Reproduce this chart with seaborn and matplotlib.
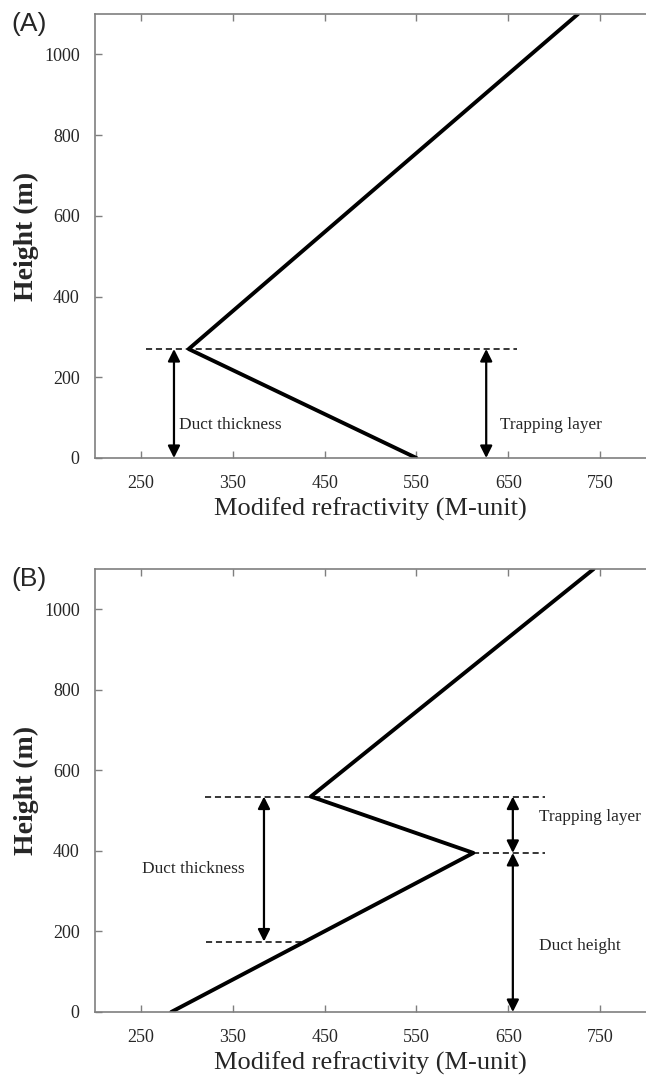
import matplotlib
matplotlib.use("Agg")
import matplotlib.pyplot as plt
import seaborn as sns
import pandas as pd

# ---- data ----
x_ticks = [250, 350, 450, 550, 650, 750]
y_ticks = [0, 200, 400, 600, 800, 1000]

# Panel A profile (M-unit, height m)
a_m = [550, 302, 726]
a_h = [0, 270, 1100]
# Panel A reference lines / arrows
a_dash_h = [270]
a_dash_x0 = [255]
a_dash_x1 = [660]
a_arrow_x = [286, 626]
a_arrow_y0 = [0, 0]
a_arrow_y1 = [270, 270]
a_text = ["Duct thickness", "Trapping layer"]
a_text_x = [291, 641]
a_text_y = [82, 82]

# Panel B profile
b_m = [283, 612, 435, 743]
b_h = [0, 395, 535, 1100]
b_dash_h = [535, 395, 175]
b_dash_x0 = [320, 612, 321]
b_dash_x1 = [690, 690, 428]
b_arrow_x = [384, 655, 655]
b_arrow_y0 = [175, 395, 0]
b_arrow_y1 = [535, 535, 395]
b_text = ["Duct thickness", "Trapping layer", "Duct height"]
b_text_x = [251, 683, 684]
b_text_y = [355, 485, 165]

sns.set_style("white")
plt.rcParams["font.family"] = ["Liberation Serif", "DejaVu Serif"]

fig = plt.figure(figsize=(6.46, 10.82), dpi=100)
ax_a = fig.add_axes([95 / 646, 1 - 458 / 1082, 551 / 646, 444 / 1082])
ax_b = fig.add_axes([95 / 646, 1 - 1012 / 1082, 551 / 646, 443 / 1082])

spine_col = "#7f7f7f"


def draw(ax, m, h, dh, dx0, dx1, ax_x, ay0, ay1, texts, tx, ty, tag):
    df = pd.DataFrame({"M": m, "H": h})
    sns.lineplot(data=df, x="M", y="H", sort=False, estimator=None,
                 color="black", lw=2.8, ax=ax)
    for yv, x0, x1 in zip(dh, dx0, dx1):
        ax.plot([x0, x1], [yv, yv], color="black", lw=1.1, ls=(0, (4, 2.5)))
    for xv, y0, y1 in zip(ax_x, ay0, ay1):
        ax.annotate("", xy=(xv, y1), xytext=(xv, y0),
                    arrowprops=dict(arrowstyle="<|-|>", color="black", lw=1.6,
                                    mutation_scale=18, shrinkA=0, shrinkB=0))
    for t, xv, yv in zip(texts, tx, ty):
        ax.text(xv, yv, t, fontsize=12.4, va="center", ha="left")
    ax.set_xlim(200, 800)
    ax.set_ylim(0, 1100)
    ax.set_xticks(x_ticks)
    ax.set_yticks(y_ticks)
    ax.tick_params(axis="both", direction="in", length=5, width=1,
                   color=spine_col, labelsize=13)
    ax.tick_params(axis="x", top=True, bottom=True, pad=12)
    ax.tick_params(axis="y", left=True, right=False, pad=11)
    for s in ["left", "bottom", "top"]:
        ax.spines[s].set_color(spine_col)
        ax.spines[s].set_linewidth(1.2)
    ax.spines["right"].set_visible(False)
    ax.set_xlabel("Modifed refractivity (M-unit)", fontsize=19, labelpad=4)
    ax.set_ylabel("Height (m)", fontsize=20, fontweight="bold")
    ax.yaxis.set_label_coords(-0.125, 0.5)
    ax.yaxis.label.set_va("center")
    ax.text(-0.152, 1.005, tag, transform=ax.transAxes, fontsize=19,
            family=["Liberation Sans", "DejaVu Sans"], va="top", ha="left")


draw(ax_a, a_m, a_h, a_dash_h, a_dash_x0, a_dash_x1, a_arrow_x, a_arrow_y0,
     a_arrow_y1, a_text, a_text_x, a_text_y, "(A)")
draw(ax_b, b_m, b_h, b_dash_h, b_dash_x0, b_dash_x1, b_arrow_x, b_arrow_y0,
     b_arrow_y1, b_text, b_text_x, b_text_y, "(B)")

fig.savefig("out.png", dpi=100)
